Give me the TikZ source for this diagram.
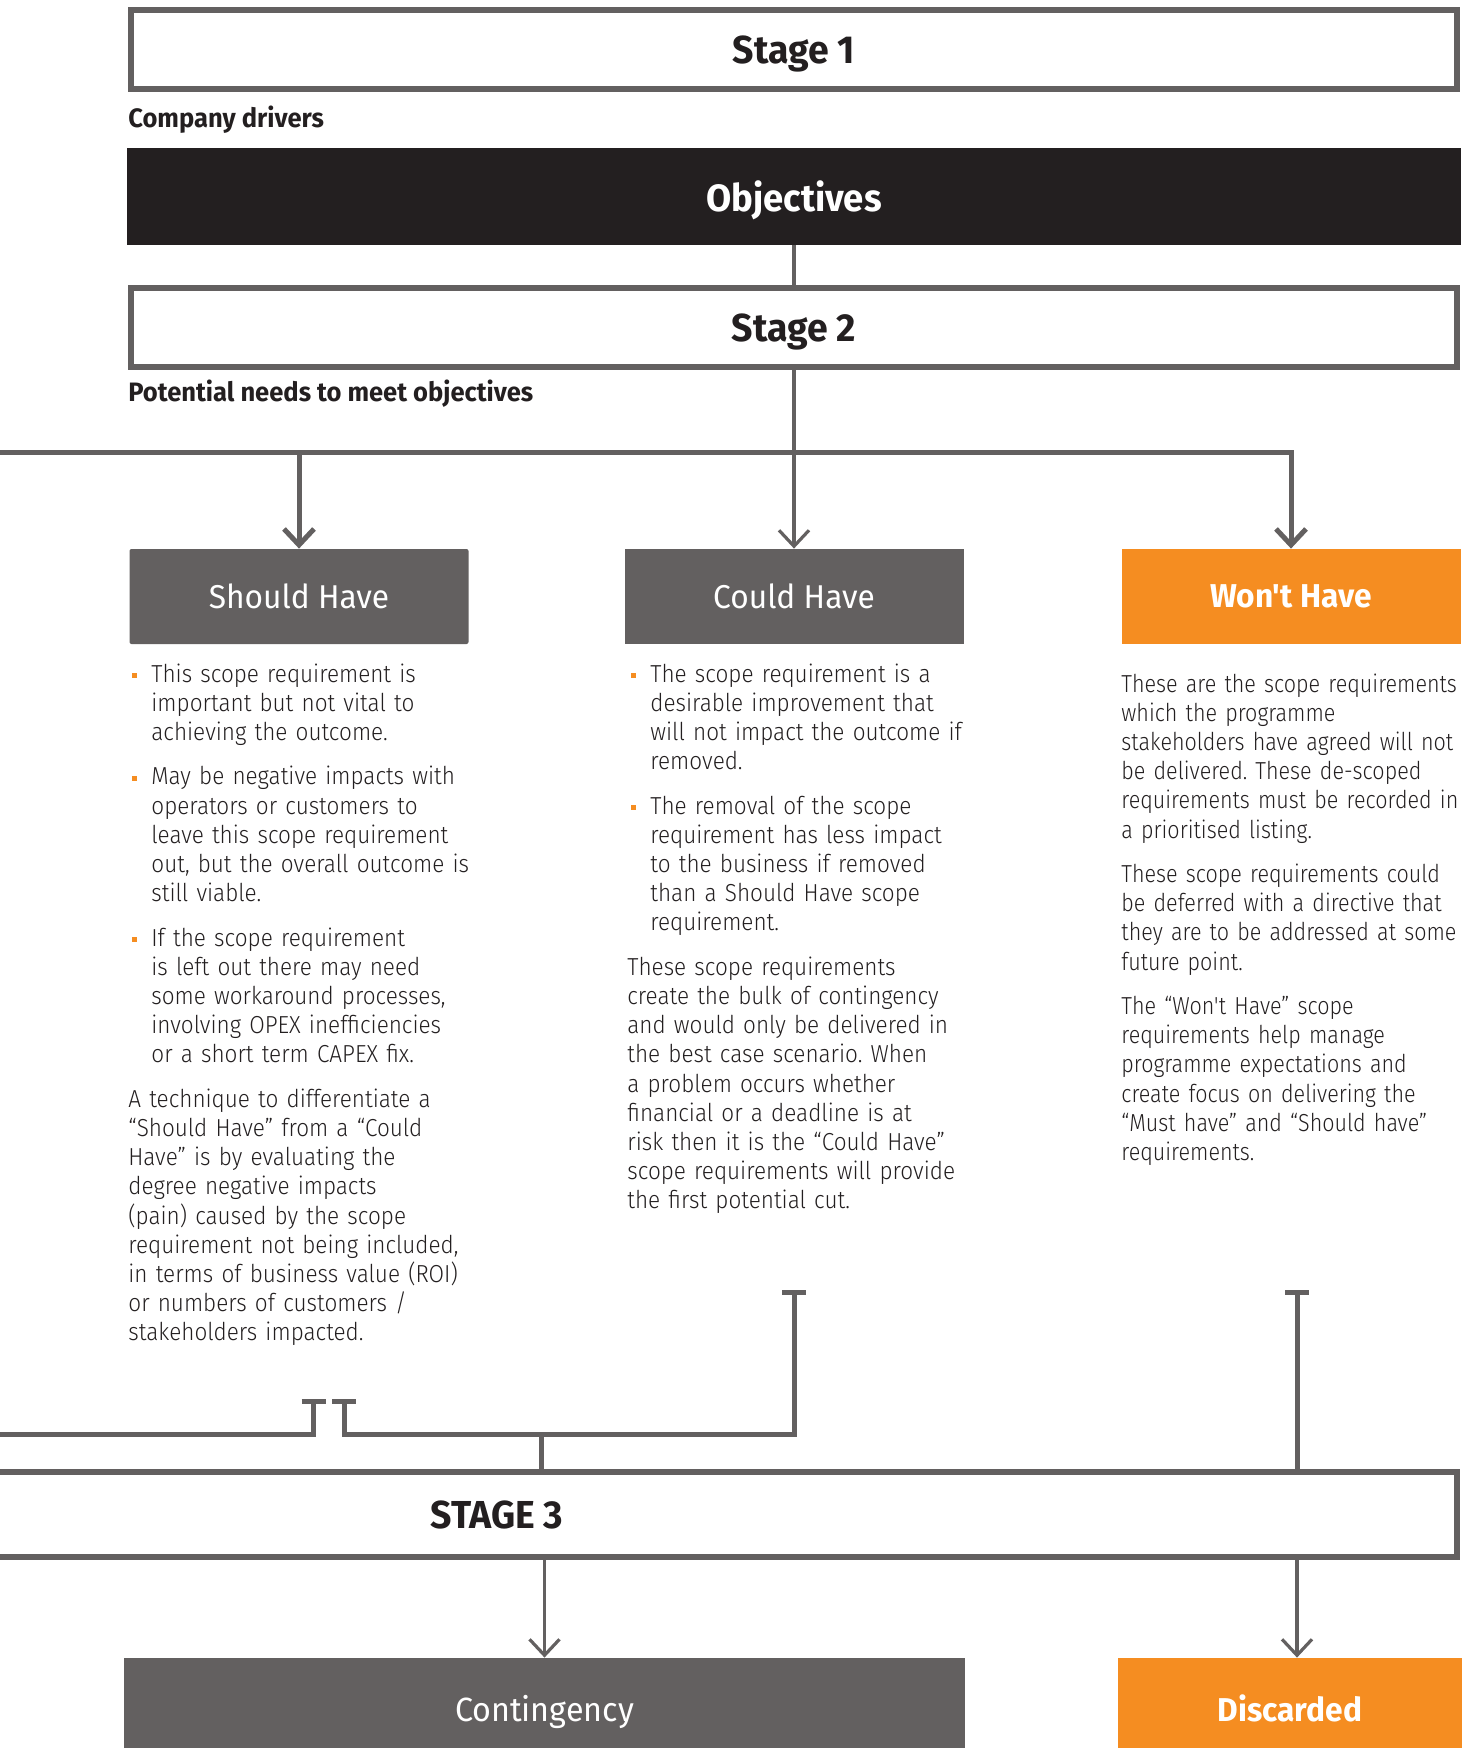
\documentclass[tikz,border=0pt]{standalone}
\usepackage{fontspec}
\usetikzlibrary{arrows.meta}
\newfontfamily\bodyfont{Fira Sans Light}[FakeStretch=0.915]
\newfontfamily\narrowbodyfont{Fira Sans Light}[FakeStretch=0.875]
\newfontfamily\titlefont{Fira Sans}[FakeStretch=0.96]
\definecolor{boxgray}{HTML}{636060}
\definecolor{wkorange}{HTML}{F58D21}
\definecolor{inkblack}{HTML}{231F20}
\newcommand{\bulletdot}{\textcolor{wkorange}{\rule[2.1pt]{2.2pt}{2.2pt}}}
\newcommand{\bitem}[1]{\noindent\hangindent=11.5pt\hangafter=1\makebox[11.5pt][l]{\hspace{2pt}\bulletdot}#1\par\vspace{7.6pt}}
\newcommand{\pgap}{\par\vspace{7.6pt}}
\frenchspacing

\begin{document}
\begin{tikzpicture}[x=0.5pt, y=-0.5pt,
    stagebox/.style={draw=boxgray, line width=3pt, fill=white, minimum width=663pt, minimum height=39.5pt, inner sep=0pt, text depth=0pt, text=inkblack, font=\titlefont\bfseries\fontsize{19.5pt}{21pt}\selectfont},
    havebox/.style={fill=boxgray, minimum width=169.5pt, minimum height=47.5pt, inner sep=0pt, text depth=0pt, text=white, font=\titlefont\fontsize{16.5pt}{18pt}\selectfont},
    wontbox/.style={fill=wkorange, minimum width=169.5pt, minimum height=47.5pt, inner sep=0pt, text depth=0pt, text=white, font=\titlefont\bfseries\fontsize{16.5pt}{18pt}\selectfont},
    sublabel/.style={anchor=base west, inner sep=0pt, text=inkblack, font=\titlefont\bfseries\fontsize{13.3pt}{15pt}\selectfont},
    bodytext/.style={anchor=base west, text width=200pt, inner sep=0pt, text=inkblack, font=\bodyfont\fontsize{12.3pt}{14.6pt}\selectfont},
    conn/.style={draw=boxgray, line width=2.5pt},
    thinconn/.style={draw=boxgray, line width=1.6pt},
    barb/.style={-{Straight Barb[length=8pt, width=15pt]}},
    teeend/.style={{Bar[width=12pt]}-},
    teeboth/.style={{Bar[width=12pt]}-{Bar[width=12pt]}}]
    \useasboundingbox (0,0) rectangle (1461,1748);

    \node[stagebox] (stage1) at (794,49.5) {Stage 1};
    \node[sublabel] (drivers) at (128,128) {Company drivers};
    \node[fill=inkblack, minimum width=667pt, minimum height=48.5pt, inner sep=0pt, text depth=0pt, text=white, font=\titlefont\bfseries\fontsize{19pt}{21pt}\selectfont] (objectives) at (794,196.5) {Objectives};
    \node[stagebox] (stage2) at (794,327.5) {Stage 2};
    \node[sublabel] (needs) at (128,402) {Potential needs to meet objectives};

    \node[havebox, rounded corners=1pt] (should) at (299,596.5) {Should Have};
    \node[havebox] (could) at (794,596.5) {Could Have};
    \node[wontbox] (wont) at (1291,596.5) {Won't Have};

    \node[bodytext] (shouldtext) at (128,682) {%
        \bitem{This scope requirement is\newline important but not vital to\newline achieving the outcome.}
        \bitem{May be negative impacts with\newline operators or customers to\newline leave this scope requirement\newline out, but the overall outcome is\newline still viable.}
        \bitem{If the scope requirement\newline is left out there may need\newline some workaround processes,\newline involving OPEX inefficiencies\newline or a short term CAPEX fix.}
        A technique to differentiate a\newline “Should Have” from a “Could\newline Have” is by evaluating the\newline degree negative impacts\newline (pain) caused by the scope\newline requirement not being included,\newline in terms of business value (ROI)\newline or numbers of customers /\newline stakeholders impacted.};
    \node[bodytext] (couldtext) at (627,682) {%
        \bitem{The scope requirement is a\newline desirable improvement that\newline will not impact the outcome if\newline removed.}
        \bitem{The removal of the scope\newline requirement has less impact\newline to the business if removed\newline than a Should Have scope\newline requirement.}
        These scope requirements\newline create the bulk of contingency\newline and would only be delivered in\newline the best case scenario. When\newline a problem occurs whether\newline financial or a deadline is at\newline risk then it is the “Could Have”\newline scope requirements will provide\newline the first potential cut.};
    \node[bodytext, font=\narrowbodyfont\fontsize{12.3pt}{14.6pt}\selectfont] (wonttext) at (1121,692) {%
        These are the scope requirements\newline which the programme\newline stakeholders have agreed will not\newline be delivered. These de-scoped\newline requirements must be recorded in\newline a prioritised listing.\pgap
        These scope requirements could\newline be deferred with a directive that\newline they are to be addressed at some\newline future point.\pgap
        The “Won't Have” scope\newline requirements help manage\newline programme expectations and\newline create focus on delivering the\newline “Must have” and “Should have”\newline requirements.};

    \node[stagebox, minimum width=738.5pt, minimum height=42.5pt] (stage3) at (718.5,1514.5) {};
    \node[inner sep=0pt, text depth=0pt, text=inkblack, font=\titlefont\bfseries\fontsize{19.5pt}{21pt}\selectfont] (stage3label) at (497,1515) {STAGE 3};

    \node[havebox, minimum width=420.5pt, minimum height=50pt, font=\titlefont\fontsize{16.8pt}{18pt}\selectfont] (contingency) at (544.5,1708) {Contingency};
    \node[wontbox, minimum width=172pt, minimum height=50pt] (discarded) at (1290,1708) {Discarded};

    \coordinate (topin) at (-10,453);
    \coordinate (leftout) at (-10,1434.5);
    \coordinate (merge) at (541.5,1434.5);
    \coordinate (teeA) at (313.5,1399);
    \coordinate (teeB) at (344,1399);
    \coordinate (teeC) at (794,1290);
    \coordinate (teeD) at (1297,1290);

    \draw[thinconn] (objectives.south) -- (stage2.north);
    \draw[thinconn, barb] (stage2.south) -- (could.north);
    \draw[conn, barb] (topin) -| (wont.north);
    \draw[conn, barb] (should.north |- topin) -- (should.north);

    \draw[conn, teeend] (teeA) |- (leftout);
    \draw[conn, teeboth] (teeB) |- (merge) -| (teeC);
    \draw[conn] (merge) -- (merge |- stage3.north);
    \draw[conn, teeend, shorten >=-2.5pt] (teeD) -- (teeD |- stage3.north);

    \draw[thinconn, barb] (contingency.north |- stage3.south) -- (contingency.north);
    \draw[thinconn, barb] (teeD |- stage3.south) -- (teeD |- discarded.north);
\end{tikzpicture}
\end{document}
